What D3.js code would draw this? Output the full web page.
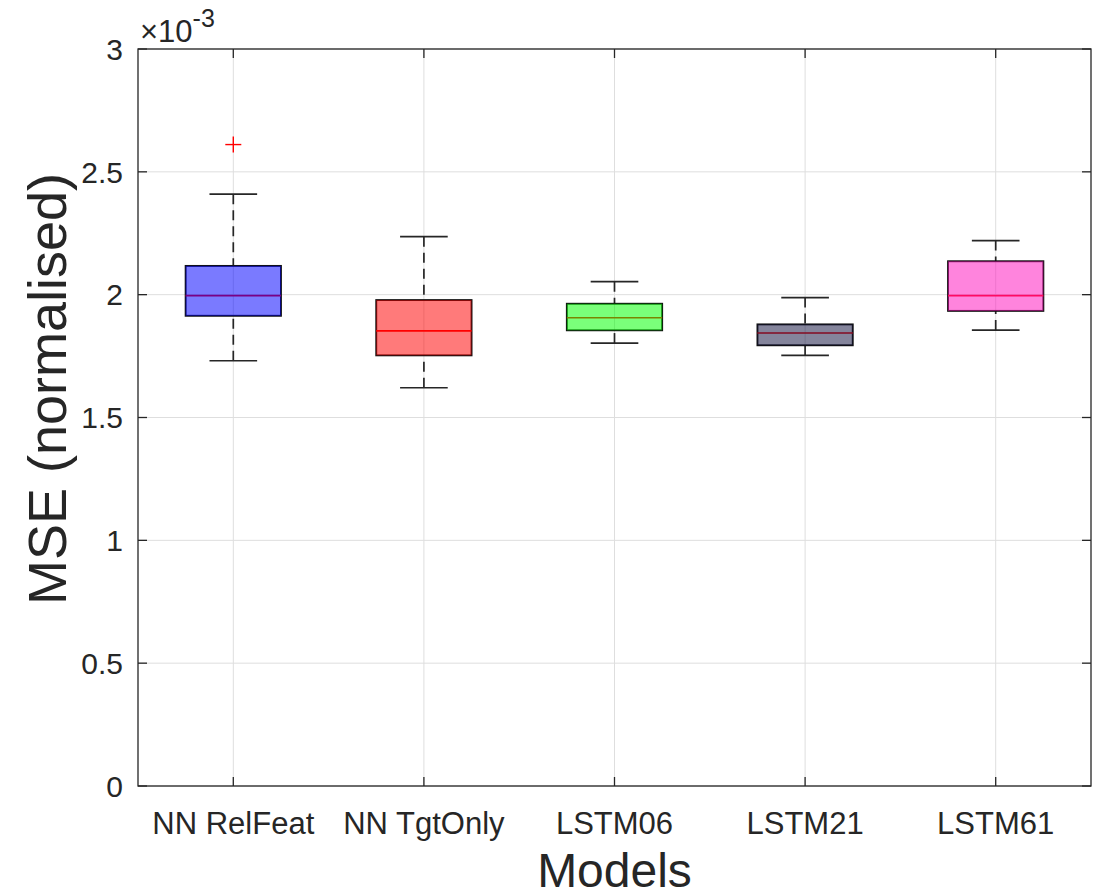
<!DOCTYPE html>
<html>
<head>
<meta charset="utf-8">
<script src="https://cdn.jsdelivr.net/npm/d3@7"></script>
<style>
  body { margin: 0; background: #fff; }
  text { font-family: "Liberation Sans", Arial, sans-serif; fill: #262626; }
</style>
</head>
<body>
<svg id="chart"></svg>
<script>
// box plot stats per model (MSE, normalised)
const categories  = ['NN RelFeat', 'NN TgtOnly', 'LSTM06', 'LSTM21', 'LSTM61'];
const whiskerLow  = [1.731e-3, 1.621e-3, 1.803e-3, 1.753e-3, 1.856e-3];
const q1          = [1.914e-3, 1.753e-3, 1.855e-3, 1.794e-3, 1.934e-3];
const medians     = [1.996e-3, 1.853e-3, 1.906e-3, 1.844e-3, 1.996e-3];
const q3          = [2.117e-3, 1.978e-3, 1.963e-3, 1.879e-3, 2.136e-3];
const whiskerHigh = [2.409e-3, 2.236e-3, 2.053e-3, 1.988e-3, 2.220e-3];
const outliers    = [[2.611e-3], [], [], [], []];
const boxColors   = ['#0000ff', '#ff0000', '#00ff00', '#141440', '#ff14be'];
const yTicks      = [0, 0.5e-3, 1e-3, 1.5e-3, 2e-3, 2.5e-3, 3e-3];

let canvasWidth  = 1093;
let canvasHeight = 895;
let margin = { top: 49, right: 2, bottom: 109, left: 138 };
let width  = canvasWidth - margin.left - margin.right;
let height = canvasHeight - margin.top - margin.bottom;

let svg = d3.select('#chart')
  .attr('width', canvasWidth)
  .attr('height', canvasHeight)
  .append('g')
    .attr('transform', 'translate(' + margin.left + ',' + margin.top + ')');

let x = d3.scaleBand().domain(categories).range([0, width]).paddingInner(0).paddingOuter(0);
let y = d3.scaleLinear().domain([0, 3e-3]).range([height, 0]);
let cx = (d) => x(d) + x.bandwidth() / 2;
let boxW = x.bandwidth() * 0.5;
let capW = x.bandwidth() * 0.25;
let tickLen = 9;

// grid
let grid = svg.append('g').attr('class', 'grid');
grid.selectAll('line.gy').data(yTicks).enter().append('line')
  .attr('x1', 0).attr('x2', width)
  .attr('y1', (d) => y(d)).attr('y2', (d) => y(d))
  .attr('stroke', '#dedede').attr('stroke-width', 1);
grid.selectAll('line.gx').data(categories).enter().append('line')
  .attr('x1', cx).attr('x2', cx)
  .attr('y1', 0).attr('y2', height)
  .attr('stroke', '#dedede').attr('stroke-width', 1);

// boxes
let data = categories.map((c, i) => ({
  name: c, lo: whiskerLow[i], q1: q1[i], med: medians[i], q3: q3[i], hi: whiskerHigh[i],
  out: outliers[i], color: boxColors[i]
}));

let boxes = svg.append('g').selectAll('g.box').data(data).enter()
  .append('g').attr('class', 'box');

// whiskers (dashed)
boxes.append('line')
  .attr('x1', (d) => cx(d.name)).attr('x2', (d) => cx(d.name))
  .attr('y1', (d) => y(d.hi)).attr('y2', (d) => y(d.q3))
  .attr('stroke', '#262626').attr('stroke-width', 1.7).attr('stroke-dasharray', '10,6');
boxes.append('line')
  .attr('x1', (d) => cx(d.name)).attr('x2', (d) => cx(d.name))
  .attr('y1', (d) => y(d.lo)).attr('y2', (d) => y(d.q1))
  .attr('stroke', '#262626').attr('stroke-width', 1.7).attr('stroke-dasharray', '10,6');

// caps
['hi', 'lo'].forEach((k) => {
  boxes.append('line')
    .attr('x1', (d) => cx(d.name) - capW / 2).attr('x2', (d) => cx(d.name) + capW / 2)
    .attr('y1', (d) => y(d[k])).attr('y2', (d) => y(d[k]))
    .attr('stroke', '#262626').attr('stroke-width', 1.7);
});

// outline + median, then translucent patch on top
boxes.append('rect')
  .attr('x', (d) => cx(d.name) - boxW / 2)
  .attr('y', (d) => y(d.q3))
  .attr('width', boxW)
  .attr('height', (d) => y(d.q1) - y(d.q3))
  .attr('fill', 'none').attr('stroke', '#111').attr('stroke-width', 1.9);
boxes.append('line')
  .attr('x1', (d) => cx(d.name) - boxW / 2).attr('x2', (d) => cx(d.name) + boxW / 2)
  .attr('y1', (d) => y(d.med)).attr('y2', (d) => y(d.med))
  .attr('stroke', '#ff0000').attr('stroke-width', 1.7);
boxes.append('rect')
  .attr('x', (d) => cx(d.name) - boxW / 2)
  .attr('y', (d) => y(d.q3))
  .attr('width', boxW)
  .attr('height', (d) => y(d.q1) - y(d.q3))
  .attr('fill', (d) => d.color).attr('fill-opacity', 0.52);

// outliers
let outs = boxes.selectAll('g.out').data((d) => d.out.map((v) => ({ name: d.name, v: v }))).enter()
  .append('g').attr('class', 'out');
outs.append('line')
  .attr('x1', (o) => cx(o.name) - 8).attr('x2', (o) => cx(o.name) + 8)
  .attr('y1', (o) => y(o.v)).attr('y2', (o) => y(o.v))
  .attr('stroke', '#ff0000').attr('stroke-width', 1.4);
outs.append('line')
  .attr('x1', (o) => cx(o.name)).attr('x2', (o) => cx(o.name))
  .attr('y1', (o) => y(o.v) - 8).attr('y2', (o) => y(o.v) + 8)
  .attr('stroke', '#ff0000').attr('stroke-width', 1.4);

// axes frame
svg.append('rect')
  .attr('width', width).attr('height', height)
  .attr('fill', 'none').attr('stroke', '#262626').attr('stroke-width', 1.3);

// ticks (inside, all four sides)
let ticks = svg.append('g').attr('stroke', '#262626').attr('stroke-width', 1.3);
yTicks.forEach((t) => {
  ticks.append('line').attr('x1', 0).attr('x2', tickLen).attr('y1', y(t)).attr('y2', y(t));
  ticks.append('line').attr('x1', width - tickLen).attr('x2', width).attr('y1', y(t)).attr('y2', y(t));
});
categories.forEach((c) => {
  ticks.append('line').attr('x1', cx(c)).attr('x2', cx(c)).attr('y1', height).attr('y2', height - tickLen);
  ticks.append('line').attr('x1', cx(c)).attr('x2', cx(c)).attr('y1', 0).attr('y2', tickLen);
});

// tick labels
svg.append('g').selectAll('text').data(yTicks).enter().append('text')
  .attr('x', -15).attr('y', (d) => y(d))
  .attr('dy', '0.36em')
  .attr('text-anchor', 'end')
  .style('font-size', '30px')
  .text((d) => d3.format('~g')(d * 1000));

svg.append('g').selectAll('text').data(categories).enter().append('text')
  .attr('x', cx).attr('y', height + 48)
  .attr('text-anchor', 'middle')
  .style('font-size', '31px')
  .text((d) => d);

// exponent label
let expo = svg.append('text')
  .attr('x', 2).attr('y', -7)
  .style('font-size', '31px');
expo.append('tspan').text('\u00d710');
expo.append('tspan').attr('dy', -15).style('font-size', '25px').text('-3');

// axis titles
svg.append('text')
  .attr('x', width / 2).attr('y', height + 101)
  .attr('text-anchor', 'middle')
  .style('font-size', '48px')
  .text('Models');

svg.append('text')
  .attr('transform', 'translate(' + (-72) + ',' + (340) + ') rotate(-90)')
  .attr('text-anchor', 'middle')
  .style('font-size', '54px')
  .text('MSE (normalised)');
</script>
</body>
</html>
